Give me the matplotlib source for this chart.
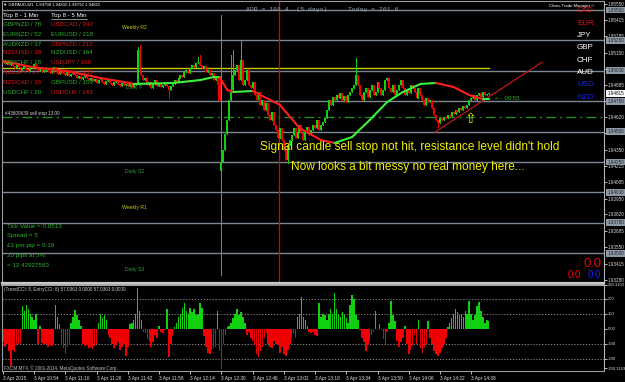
import matplotlib
matplotlib.use("Agg")
import matplotlib.pyplot as plt
from matplotlib.lines import Line2D
import numpy as np

plt.rcParams["font.family"] = ["Liberation Sans", "DejaVu Sans"]

# ---- data: GBPAUD M1, prices in points above 1.93000 ----
BASE = 1.93
PT = 0.00001

closes = [
    2072, 2056, 2081, 2048, 2064,
    2040, 2023, 2048, 2031, 2007, 2023, 2040, 2015, 1998, 2023, 2040, 2056, 2031, 2007, 2015,
    1990, 2007, 2023, 1998, 1982, 2015, 2031, 2007, 1974, 1990, 2007, 1982, 1966, 1990, 1957,
    1974, 1998, 1966, 1941, 1957, 1933, 1949, 1966, 1941, 1924,
    1941, 1916, 1933, 1900, 1924, 1941, 1908, 1892, 1916, 1933, 1900, 1883, 1908, 1924, 1892,
    1875, 1900, 1883, 1892,
    1875, 1900, 1867, 1883, 1892,
    2171, 2007,
    1966, 1924, 1941, 1883, 1908, 1859, 1892, 1924, 1875, 1900, 1867, 1883, 1908, 1875, 1842,
    1875, 1892, 1924, 1908, 1941, 1966, 1949, 1990, 2007, 1982, 2023, 2048, 2031, 2064,
    2072, 2048,
    2023, 2040, 1990, 2007, 1966, 1982, 1924, 1941, 1883,
    1760, 1250,
    1349, 1480, 1596, 1760, 1842, 1966, 2007, 2048, 1924, 2089, 1883, 1924, 2007, 1883, 1859,
    1908, 1801, 1760, 1826, 1719, 1760, 1678, 1735, 1637, 1596, 1661, 1555, 1513,
    1448, 1530, 1431, 1349, 1267, 1390, 1431, 1472,
    1530, 1448, 1497, 1555, 1489, 1431, 1513, 1538, 1472, 1513, 1555, 1530, 1596, 1513, 1555,
    1579, 1612,
    1678, 1760, 1719, 1785, 1760,
    1801, 1776, 1818, 1760, 1793, 1744, 1801, 1826,
    1859, 1883, 1966,
    1883, 1801, 1760, 1826, 1859, 1785, 1842, 1883, 1801, 1826, 1908, 1859, 1801, 1842, 1924,
    1941, 1859, 1826, 1883, 1801, 1842, 1883, 1924, 1859, 1801, 1842, 1818, 1883, 1859,
    1826, 1776, 1859, 1801, 1760, 1719, 1776, 1744,
    1760, 1694, 1637, 1596, 1571, 1612,
    1596, 1620, 1612, 1637, 1628, 1661, 1645, 1678, 1661, 1694, 1678, 1711, 1694,
    1719, 1760, 1776, 1801, 1760,
    1801, 1818, 1785, 1826, 1801, 1809, 1815,
]
gap_open = {112: 1180}
spike_high = {69: 2196, 70: 2212, 100: 2113, 101: 2130, 111: 1941, 112: 2459,
              117: 2130, 118: 2171, 122: 2253, 181: 2105}
spike_low = {85: 1776, 110: 1760, 112: 322, 146: 1242, 223: 1538}

cci = ([-90, -120, -100, -150, -250, -140, -155, -110, -100, -95]
       + [150, 120, 160, 130, 100, 80, 60, 100] + [-100] + [20]
       + [-95, -110, -100, -120, -105, -115, -100] + [160, 80, 30]
       + [-110, -130, -170, -120, -100] + [40, 80, 125, 90, 60, 20]
       + [-100, -115, -110, -125, -120, -135, -115, -100] + [40, 100, 70, 90, 60]
       + [-40] + [-60, -100, -130, -110, -90, -140, -120, -100, -180, -120]
       + [30, 40, 60, 100, 270, 120, 60] + [-20, -30, -70, -80, -120, -90, -40, -60]
       + [20] + [-20, -25, -10] + [130] + [-190, -100, -50]
       + [10, 40, 80, 100, 140, 170, 120, 100, 140, 110, 130, 90, 100, 170, 140]
       + [-50, -120, -160, -170, -140, -130, -120] + [120] + [-150, -265, -100, -40]
       + [10, 20, 40, 70, 100, 130, 90, 110, 80, 40]
       + [-40, -20, -60, -80, -110, -170, -190, -150, -120, -60, -30, -100, -120,
          -130, -80, -100, -110, -160, -120, -170, -180, -140, -100, -60, -30]
       + [-60] + [80, 100, 210, 80, 60, 20] + [-20, -30, -20, -40, -50]
       + [170, 80, 100, 90, 60, 100, 130, 100, 235, 130, 100, 80, 110, 90, 70, 40,
          160, 225, 200, 90, 60]
       + [-10, -60, -90, -150, -110, -80, -40, -20] + [120] + [-10, 30]
       + [-5, -70, -100, -20] + [40, 185, 90, 50]
       + [-80, -120, -90, -60, 20, -100, -170, -140, -110]
       + [-40, -100, 55, -130, -160, -120, -100, 50, -60]
       + [-100, -150, -170, -180, -160, -130, -100, -60]
       + [10, 40, 70, 100, 130, 110, 90, 100, 80, 120, 100, 185, 100, 60, 90, 150,
          180, 120, 80, 40, 60, 50])

ma_bar = [0, 15, 33, 50, 65, 67, 87, 101, 108, 111, 115, 118, 128, 142, 152, 163, 170,
          179, 188, 197, 205, 214, 222, 231, 239, 246, 249]
ma_val = [2081, 2031, 1998, 1941, 1900, 1892, 1900, 1924, 1949, 1949, 1842, 1826, 1834,
          1719, 1530, 1431, 1407, 1456, 1596, 1744, 1826, 1892, 1900, 1867, 1801, 1768, 1768]

levels = [1.955, 1.9525, 1.95, 1.9475, 1.945, 1.9425, 1.94, 1.9375, 1.935]
price_ticks = [1.95550, 1.95415, 1.95285, 1.95150, 1.95015, 1.94885, 1.94750, 1.94620,
               1.94485, 1.94350, 1.94215, 1.94085, 1.93950, 1.93820, 1.93685, 1.93550,
               1.93415, 1.93280]
weekly_r2 = 1.95023
sell_stop = 1.94620
last_price = 1.94815
trend_bars = [221.5, 276.4]
trend_prices = [1.94497, 1.95072]
news_bar = 141.5

time_ticks = list(range(0, 241, 16))
time_labels = ["3 Apr 2015", "3 Apr 10:54", "3 Apr 11:10", "3 Apr 11:26", "3 Apr 11:42",
               "3 Apr 11:58", "3 Apr 12:14", "3 Apr 12:30", "3 Apr 12:46", "3 Apr 13:02",
               "3 Apr 13:18", "3 Apr 13:34", "3 Apr 13:50", "3 Apr 14:06", "3 Apr 14:22",
               "3 Apr 14:38"]
cci_ticks = [290.3103, 200, 100, 0, -100, -200, -262]
cci_labels = ["290.3103", "200", "100", "0.00", "-100", "-200", "-250.3103"]

top_1min = ["GBPNZD / 78", "EURNZD / 52", "AUDNZD / 37", "NZDUSD / 38", "GBPCHF / 28",
            "NZDJPY / 27", "NZDCAD / 26", "USDCHF / 20"]
top_1min_up = [1, 1, 1, 0, 1, 0, 0, 1]
top_5min = ["USDCAD / 242", "EURUSD / 218", "GBPNZD / 212", "NZDUSD / 164", "USDJPY / 160",
            "USDCAD / 155", "GBPUSD / 159", "USDCHF / 143"]
top_5min_up = [0, 1, 0, 1, 0, 0, 1, 0]
currencies = ["CAD", "EUR", "JPY", "GBP", "CHF", "AUD", "USD", "NZD"]
cur_colors = ["#e81010", "#e81010", "white", "white", "white", "white", "#1428e0", "#1428e0"]

GREEN = "#10d010"
RED = "#f00000"

# ---- figure ----
W, H = 625, 382
fig = plt.figure(figsize=(W / 100, H / 100), dpi=100, facecolor="black")


def ftext(x, y, s, **kw):
    kw.setdefault("va", "center")
    kw.setdefault("ha", "left")
    return fig.text(x / W, 1 - y / H, s, **kw)


ax = fig.add_axes([2 / W, 1 - 283 / H, 602 / W, 282 / H], facecolor="black")
sub = fig.add_axes([2 / W, 1 - 371 / H, 602 / W, 86 / H], facecolor="black")

for a in (ax, sub):
    a.set_xlim(-0.5, 308.1)
    for s in a.spines.values():
        s.set_color("#9a9a9a")
        s.set_linewidth(0.8)
    a.spines["right"].set_color("#b4b4b4")
ax.spines["bottom"].set_color("#c8c8c8")
ax.spines["bottom"].set_linewidth(1.6)
sub.spines["top"].set_color("#c8c8c8")
sub.spines["top"].set_linewidth(1.2)

ax.set_ylim(1.93256, 1.95574)

# level lines
for p in levels:
    ax.axhline(p, color="#7c8794", lw=1.0, zorder=1)
xs = np.arange(len(closes))
ax.plot([-0.5, xs[-1]], [weekly_r2, weekly_r2], color="#c8c800", lw=1.0, zorder=1)
ax.axhline(sell_stop, color="#2a8a2a", lw=1.0, ls=(0, (7, 3, 1.5, 3)), zorder=1)
ax.axvline(news_bar, color="#e00000", lw=0.9, zorder=1)

# candles: thin wick + body
opens = [closes[0]] + closes[:-1]
for i, v in gap_open.items():
    opens[i] = v
lows, highs, b_lo, b_hi, cols = [], [], [], [], []
for i, (o, c) in enumerate(zip(opens, closes)):
    hi = max(o, c, spike_high.get(i, 0))
    lo = min(o, c, spike_low.get(i, 99999))
    bh, bl = max(o, c), min(o, c)
    if bh - bl < 4:
        bh += 2
        bl -= 2
    highs.append(BASE + hi * PT)
    lows.append(BASE + lo * PT)
    b_hi.append(BASE + bh * PT)
    b_lo.append(BASE + bl * PT)
    cols.append(GREEN if c >= o else RED)
ax.vlines(xs, lows, highs, colors=cols, lw=0.7, zorder=3, antialiased=False)
ax.vlines(xs, b_lo, b_hi, colors=cols, lw=1.3, zorder=3, antialiased=False)

# slope coloured moving average
ma_p = [BASE + v * PT for v in ma_val]
for i in range(len(ma_bar) - 1):
    c = "#3cf03c" if ma_p[i + 1] >= ma_p[i] else "#ff1e1e"
    ax.plot(ma_bar[i:i + 2], ma_p[i:i + 2], color=c, lw=1.5, solid_capstyle="round", zorder=4)

ax.plot(trend_bars, trend_prices, color="#c01818", lw=0.9, zorder=2)

# price axis
ax.yaxis.tick_right()
ax.set_yticks(price_ticks)
ax.set_yticklabels(["%.5f" % p for p in price_ticks])
ax.tick_params(axis="y", labelsize=3.3, colors="#d8d8d8", length=2, width=0.6, pad=1.0)
ax.tick_params(axis="x", bottom=False, labelbottom=False)
ytr = ax.get_yaxis_transform()
for p in levels:
    ax.text(1.0055, p, "%.5f" % p, transform=ytr, fontsize=3.3, color="#1e2228", va="center",
            ha="left", clip_on=False, zorder=6,
            bbox=dict(boxstyle="square,pad=0.2", fc="#8e99a6", ec="none"))
ax.text(1.0055, last_price, "%.5f" % last_price, transform=ytr, fontsize=3.3, color="black",
        va="center", ha="left", clip_on=False, zorder=6,
        bbox=dict(boxstyle="square,pad=0.2", fc="white", ec="none"))

# CCI histogram
sub.set_ylim(-280, 290.31)
cci_cols = [GREEN if v >= 0 else RED for v in cci]
sub.bar(np.arange(len(cci)), cci, width=0.8, color=cci_cols, lw=0, antialiased=False, zorder=2)
for lv in (200, 100, -100, -200):
    sub.axhline(lv, color="#9a9a9a", lw=0.6, ls=(0, (1.5, 2)), zorder=1)
sub.yaxis.tick_right()
sub.set_yticks(cci_ticks)
sub.set_yticklabels(cci_labels)
sub.tick_params(axis="y", labelsize=3.0, colors="#d8d8d8", length=2, width=0.6, pad=1.0)
sub.set_xticks(time_ticks)
sub.set_xticklabels(time_labels, ha="left")
sub.tick_params(axis="x", labelsize=3.4, colors="#e0e0e0", length=2, width=0.6, pad=1.5)

# ---- texts ----
ftext(3, 5, "\u25bc GBPAUD,M1  1.94798 1.94815 1.94792 1.94815", fontsize=3.1, color="white")
ftext(246, 10, "ADR = 188.4  (5 days)", fontsize=4.6, color="#9ca3ab", family="Liberation Mono")
ftext(348, 10, "Today = 261.6", fontsize=4.6, color="#9ca3ab", family="Liberation Mono")
ftext(549, 6, "Clives Trade Manager \u00a9", fontsize=3.1, color="white")

ftext(3, 15, "Top 8 - 1 Min", fontsize=4.4, color="white")
ftext(51, 15, "Top 8 - 5 Min", fontsize=4.4, color="white")
fig.add_artist(Line2D([3 / W, 38 / W], [1 - 19 / H, 1 - 19 / H], color="white", lw=0.4))
fig.add_artist(Line2D([51 / W, 87 / W], [1 - 19 / H, 1 - 19 / H], color="white", lw=0.4))
row_y = [24, 34, 44, 53, 63, 73, 83, 92]
for k in range(8):
    ftext(3, row_y[k], top_1min[k], fontsize=4.5,
          color="#2eae2e" if top_1min_up[k] else "#d81818", zorder=5)
    ftext(51, row_y[k], top_5min[k], fontsize=4.5,
          color="#2eae2e" if top_5min_up[k] else "#d81818", zorder=5)

for k, (cname, cc) in enumerate(zip(currencies, cur_colors)):
    ftext(577, 11 + k * 12.3, cname, fontsize=5.8, color=cc)

ftext(122, 27, "Weekly R2", fontsize=3.7, color="#c8c814")
ftext(126, 87, "Daily P", fontsize=3.7, color="#3a9a3a")
ftext(125, 172, "Daily S2", fontsize=3.7, color="#3a9a3a")
ftext(122, 208, "Weekly R1", fontsize=3.7, color="#c8c814")
ftext(125, 270, "Daily S3", fontsize=3.7, color="#3a9a3a")
ftext(5, 114, "#43609639 sell stop 13.00", fontsize=3.3, color="#d0d0d0")
ftext(495, 98, "<-- 00:55", fontsize=4.4, color="#28b428")
ftext(470, 119, "\u21e7", fontsize=10, color="#f0e000", ha="center", family="DejaVu Sans")

ftext(260, 147, "Signal candle sell stop not hit, resistance level didn't hold",
      fontsize=8.6, color="#f0f000")
ftext(291, 167, "Now looks a bit messy no real money here...", fontsize=8.6, color="#f0f000")

info = ["Tick Value = 0.0513", "Spread = 5", "\u00a31 per pip = 0.19", "20 pips at 5%",
        "= 12.42927583"]
for k, s in enumerate(info):
    ftext(7, 226 + k * 9.8, s, fontsize=4.5, color="#2eae2e")

ftext(583, 264, "0.0", fontsize=9.4, color="#ff0000")
ftext(568, 275, "0.0", fontsize=6.9, color="#ff0000")
ftext(588, 275, "0.0", fontsize=6.9, color="#1020ff")

ftext(4, 290, "(TrendCCI: 8, EntryCCI: 8) 57.0363 0.0000 57.0363 0.0000", fontsize=3.3,
      color="#d0d0d0")
ftext(4, 368, "FXCM MT4, \u00a9 2001-2014, MetaQuotes Software Corp.", fontsize=3.3,
      color="#c0c0c0")

fig.savefig("out.png", dpi=100, facecolor="black")
